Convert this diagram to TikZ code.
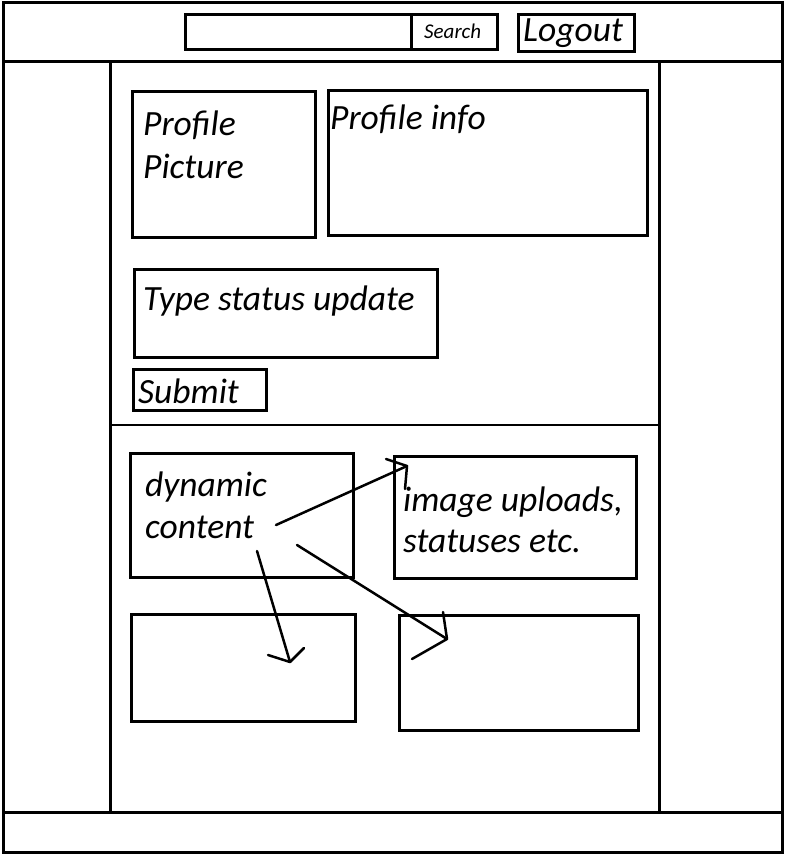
\documentclass[tikz,border=0pt]{standalone}
\usepackage{fontspec}
\setmainfont{Carlito}
\begin{document}
\begin{tikzpicture}[x=1pt,y=-1pt,
  frame/.style={line width=3pt},
  box/.style={draw,line width=3pt,inner sep=0pt,anchor=north west},
  lbl/.style={anchor=base west,inner sep=0pt,font=\fontsize{35.5}{43}\selectfont\itshape},
  small/.style={anchor=base west,inner sep=0pt,font=\fontsize{21}{25}\selectfont\itshape},
  hand/.style={line width=2.5pt,line cap=round,line join=round}]
\useasboundingbox (0,0) rectangle (788,858);
\fill[white] (0,0) rectangle (788,858);
% page frame
\draw[frame] (3,3) rectangle (782,852);
\draw[frame] (3,62) -- (782,62);
\draw[frame] (3,812) -- (782,812);
\draw[frame] (110.5,62) -- (110.5,812);
\draw[frame] (659,62) -- (659,812);
\draw[line width=1.2pt] (110.5,425) -- (659,425);
% header
\node[box,minimum width=312pt,minimum height=35pt] (search) at (183.5,13.5) {};
\draw[frame] (411,13.5) -- (411,48.5);
\node[small] (searchtxt) at (424,39) {Search};
\node[box,minimum width=116pt,minimum height=37pt] (logout) at (516.5,13.5) {};
\node[lbl] (logouttxt) at (523,42) {Logout};
% profile
\node[box,minimum width=183pt,minimum height=146pt] (pp) at (130.5,90.5) {};
\node[lbl] (pp1) at (143,136) {Profile};
\node[lbl] (pp2) at (143,179) {Picture};
\node[box,minimum width=319pt,minimum height=145pt] (pi) at (326.5,89.5) {};
\node[lbl] (pitxt) at (330,130) {Profile info};
\node[box,minimum width=303pt,minimum height=87pt] (status) at (132.5,268.5) {};
\node[lbl] (statustxt) at (143,310) {Type status update};
\node[box,minimum width=133pt,minimum height=41pt] (submit) at (131.5,367.5) {};
\node[lbl] (submittxt) at (138,403) {Submit};
% content
\node[box,minimum width=223pt,minimum height=124pt] (dyn) at (128.5,451.5) {};
\node[lbl] (dyn1) at (145,496) {dynamic};
\node[lbl] (dyn2) at (145,538) {content};
\node[box,minimum width=242pt,minimum height=122pt] (img) at (392.5,454.5) {};
\node[lbl] (img1) at (403,511) {image uploads,};
\node[lbl] (img2) at (403,552) {statuses etc.};
\node[box,minimum width=224pt,minimum height=107pt] (bl) at (129.5,612.5) {};
\node[box,minimum width=239pt,minimum height=115pt] (br) at (397.5,613.5) {};
% hand-drawn arrows
\coordinate (a1s) at (276,525); \coordinate (a1t) at (407,466);
\coordinate (a1l) at (386,459); \coordinate (a1r) at (405,489);
\coordinate (a2s) at (257,551); \coordinate (a2t) at (290,662);
\coordinate (a2l) at (268,655); \coordinate (a2r) at (304,648);
\coordinate (a3s) at (297,545); \coordinate (a3t) at (447,639);
\coordinate (a3l) at (412,659); \coordinate (a3r) at (443,612);
\draw[hand] (a1s) -- (a1t); \draw[hand] (a1l) -- (a1t) -- (a1r);
\draw[hand] (a2s) -- (a2t); \draw[hand] (a2l) -- (a2t) -- (a2r);
\draw[hand] (a3s) -- (a3t); \draw[hand] (a3l) -- (a3t) -- (a3r);
\end{tikzpicture}
\end{document}
